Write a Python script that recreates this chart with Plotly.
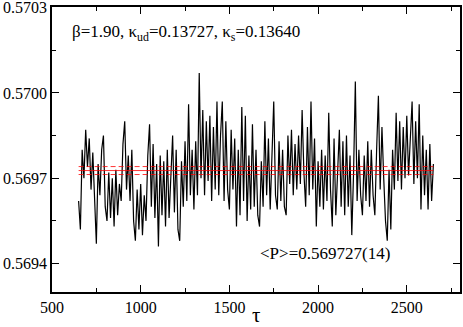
import numpy as np
import plotly.graph_objects as go

# -----------------------
# Data (one value every 10 tau)
# -----------------------
tau_start = 650
tau_step = 10
# plaquette in units of 1e-5 above 0.569
p_1e5 = [
    62, 52, 80, 70, 87, 74, 84, 66, 79, 62,
    47, 75, 64, 80, 85, 60, 55, 72, 56, 70,
    53, 73, 57, 68, 62, 82, 90, 66, 78, 62,
    80, 55, 48, 66, 52, 68, 50, 64, 55, 78,
    89, 60, 82, 56, 75, 46, 78, 57, 76, 53,
    80, 56, 74, 85, 58, 80, 52, 48, 76, 60,
    83, 62, 96, 64, 80, 59, 83, 64, 107, 70,
    94, 64, 90, 69, 92, 62, 88, 66, 97, 64,
    85, 97, 62, 90, 66, 59, 87, 66, 84, 53,
    80, 57, 95, 62, 92, 55, 78, 59, 89, 60,
    80, 57, 53, 76, 60, 90, 64, 84, 59, 80,
    97, 64, 59, 83, 62, 80, 60, 57, 85, 68,
    87, 64, 82, 66, 85, 68, 94, 72, 60, 88,
    64, 97, 66, 84, 53, 76, 60, 80, 59, 78,
    62, 93, 66, 53, 84, 57, 76, 87, 60, 83,
    57, 85, 60, 78, 50, 72, 104, 62, 80, 64,
    57, 78, 62, 83, 60, 80, 64, 57, 80, 99,
    66, 88, 70, 55, 48, 73, 52, 80, 66, 93,
    69, 90, 66, 88, 70, 92, 71, 85, 97, 68,
    90, 70, 96, 59, 85, 64, 80, 59, 82, 62,
    75,
]
p_mean = 0.569727
p_err = 0.000014

tau = tau_start + tau_step * np.arange(len(p_1e5))
plaq = 0.569 + np.array(p_1e5) * 1e-5
band_x = [tau[0], tau[-1]]

serif = "Liberation Serif"

fig = go.Figure()

fig.add_trace(go.Scatter(
    x=tau, y=plaq, mode="lines",
    line=dict(color="black", width=1.2),
    showlegend=False, hoverinfo="skip",
))

for val, dash in [(p_mean, "solid"), (p_mean + p_err, "5px,3px"), (p_mean - p_err, "5px,3px")]:
    fig.add_trace(go.Scatter(
        x=band_x, y=[val, val], mode="lines",
        line=dict(color="#ff0000", width=0.8, dash=dash),
        showlegend=False, hoverinfo="skip",
    ))

fig.add_annotation(
    x=601, y=0.570212, xref="x", yref="y",
    text="β=1.90, κ<sub>ud</sub>=0.13727, κ<sub>s</sub>=0.13640",
    showarrow=False, xanchor="left", yanchor="middle",
    font=dict(family=serif, size=17, color="black"),
)
fig.add_annotation(
    x=2039, y=0.569435, xref="x", yref="y",
    text="&lt;P&gt;=0.569727(14)",
    showarrow=False, xanchor="center", yanchor="middle",
    font=dict(family=serif, size=17, color="black"),
)
# axis title drawn as an annotation so it can sit close to the tick labels
fig.add_annotation(
    x=0.5, y=-0.082, xref="paper", yref="paper",
    text="τ", showarrow=False, xanchor="center", yanchor="middle",
    font=dict(family=serif, size=21, color="black"),
)

axis_common = dict(
    showline=True, linecolor="black", linewidth=1.5, mirror="allticks",
    ticks="inside", ticklen=7, tickwidth=1, tickcolor="black",
    showgrid=False, zeroline=False, automargin=False,
    ticklabeloverflow="allow",
    tickfont=dict(family=serif, size=16, color="black"),
)

fig.update_layout(
    width=463, height=327,
    margin=dict(l=52, r=3, t=7, b=35),
    plot_bgcolor="white", paper_bgcolor="white",
    xaxis=dict(
        range=[500, 2800], tickvals=[500, 1000, 1500, 2000, 2500],
        minor=dict(ticks="inside", ticklen=4, dtick=250, tick0=500, tickcolor="black"),
        **axis_common,
    ),
    yaxis=dict(
        range=[0.5693, 0.570302], tickvals=[0.5694, 0.5697, 0.5700, 0.5703],
        tickformat=".4f",
        minor=dict(ticks="inside", ticklen=4, dtick=0.00015, tick0=0.5694, tickcolor="black"),
        **axis_common,
    ),
)

fig.write_html(
    "out.html",
    config={"displayModeBar": False},
    post_script="document.body.style.margin='0';",
)
